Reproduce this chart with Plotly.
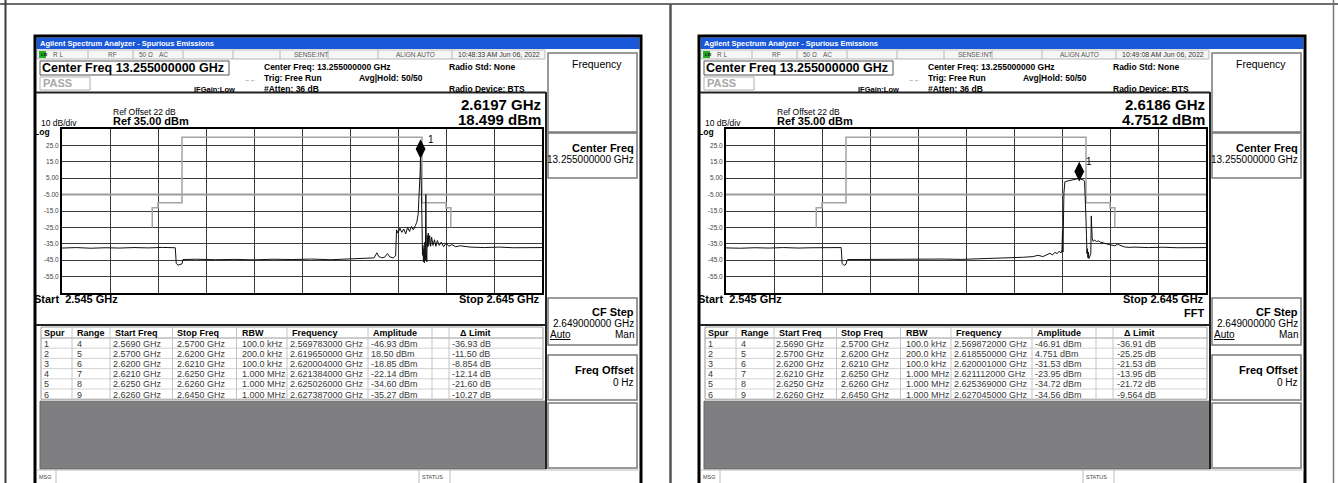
import plotly.graph_objects as go

W, H = 1338, 483
OFF = 664  # horizontal offset of the second analyser screen
FONT = "Liberation Sans, Arial, sans-serif"

# ---------------- data ----------------
x_start, x_stop = 2.545, 2.645
ref_level, db_div = 35.0, 10.0
y_ticks = [25, 15, 5, -5, -15, -25, -35, -45, -55]
y_tick_text = ["25.0", "15.0", "5.00", "-5.00", "-15.0", "-25.0", "-35.0", "-45.0", "-55.0"]
display_line = -5.0

lim_f = [2.5638, 2.5638, 2.5650, 2.5650, 2.5700, 2.5700, 2.6200, 2.6200, 2.6250, 2.6250, 2.6260, 2.6260]
lim_a = [-25, -13, -13, -10, -10, 30, 30, -10, -10, -13, -13, -25]

L_f = [2.5450, 2.5480, 2.5510, 2.5540, 2.5570, 2.5600, 2.5630, 2.5660, 2.5686,
       2.5688, 2.5692, 2.5697, 2.5700, 2.5702,
       2.5730, 2.5770, 2.5810, 2.5850, 2.5890, 2.5930, 2.5970, 2.6010, 2.6050, 2.6080,
       2.6100, 2.6106, 2.6110, 2.6116, 2.6122, 2.6128, 2.6133, 2.6140, 2.6145,
       2.6147, 2.6150, 2.6154, 2.6158, 2.6162, 2.6166, 2.6170, 2.6174, 2.6178, 2.6182,
       2.6186, 2.6189, 2.6192, 2.6194, 2.6196, 2.6197, 2.6198, 2.6199, 2.6200,
       2.6201, 2.6202, 2.6203, 2.6204, 2.6205, 2.6206, 2.6207, 2.6208, 2.6209, 2.6210,
       2.6211, 2.6212, 2.6213, 2.6214, 2.6216, 2.6218, 2.6220, 2.6223, 2.6226, 2.6229,
       2.6232, 2.6236, 2.6240, 2.6245, 2.6250, 2.6256, 2.6262, 2.6270, 2.6280, 2.6300,
       2.6330, 2.6360, 2.6390, 2.6420, 2.6450]
L_a = [-37.6, -37.3, -37.7, -37.4, -37.6, -37.3, -37.5, -37.2, -37.4,
       -47.0, -48.0, -47.6, -47.2, -44.6,
       -44.4, -44.7, -44.5, -44.8, -44.4, -44.6, -44.3, -44.7, -44.2, -43.9,
       -43.6, -40.5, -42.8, -43.5, -43.2, -41.0, -43.0, -43.6, -42.4,
       -26.5, -28.5, -25.5, -28.0, -26.0, -29.0, -25.0, -27.5, -24.5, -26.5,
       -24.0, -22.0, -17.0, -8.0, 8.0, 18.5, 10.0, -6.0, -22.0,
       -42.0, -36.0, -46.0, -38.0, -46.5, -34.0, -45.0, -5.0, -40.0, -46.0,
       -30.0, -37.0, -28.5, -36.0, -30.0, -36.5, -31.0, -36.0, -32.5, -36.5,
       -33.0, -36.0, -34.0, -36.8, -34.5, -36.5, -35.5, -36.8, -36.2, -37.0,
       -37.3, -37.0, -37.4, -37.2, -37.3]

R_f = [2.5450, 2.5480, 2.5510, 2.5540, 2.5570, 2.5600, 2.5630, 2.5660, 2.5690,
       2.5692, 2.5696, 2.5700, 2.5702, 2.5704,
       2.5740, 2.5780, 2.5820, 2.5860, 2.5900, 2.5940, 2.5980, 2.6020, 2.6050, 2.6070,
       2.6090, 2.6100, 2.6110, 2.6118, 2.6125, 2.6130, 2.6135, 2.6140, 2.6144, 2.6148, 2.6150,
       2.6151, 2.6152, 2.6154, 2.6156, 2.6160, 2.6165, 2.6170, 2.6175, 2.6180, 2.6186,
       2.6190, 2.6194, 2.6197, 2.6199, 2.6200,
       2.6201, 2.6202, 2.6203, 2.6204, 2.6205, 2.6206, 2.6208, 2.6210, 2.6211, 2.6212,
       2.6213, 2.6215, 2.6218, 2.6222, 2.6226, 2.6230, 2.6235, 2.6240, 2.6250, 2.6260,
       2.6266, 2.6270, 2.6275, 2.6280, 2.6290, 2.6300, 2.6330, 2.6360, 2.6390, 2.6420, 2.6450]
R_a = [-37.5, -37.7, -37.4, -37.6, -37.3, -37.6, -37.4, -37.5, -37.3,
       -47.0, -48.2, -47.5, -45.0, -44.6,
       -44.5, -44.7, -44.4, -44.6, -44.3, -44.5, -44.2, -44.0, -43.6, -43.2,
       -42.8, -42.0, -42.8, -41.6, -40.8, -41.8, -40.2, -41.0, -39.5, -40.6, -38.5,
       -27.0, -40.0, -4.0, 2.8, 3.2, 3.6, 3.9, 4.2, 4.5, 4.75,
       4.5, 4.0, 3.2, -8.0, -20.0,
       -30.0, -41.0, -38.0, -43.5, -40.0, -44.0, -42.0, -41.0, -18.0, -30.0,
       -32.0, -33.5, -32.8, -33.6, -33.2, -34.0, -34.5, -34.8, -35.6, -36.2,
       -35.2, -35.8, -36.6, -36.9, -37.2, -37.0, -37.3, -37.1, -37.4, -37.2, -37.3]

L_mk_f, L_mk_a = 2.6197, 18.499
R_mk_f, R_mk_a = 2.6186, 4.7512
L_mk_text = ["2.6197 GHz", "18.499 dBm"]
R_mk_text = ["2.6186 GHz", "4.7512 dBm"]
L_time = "10:48:33 AM Jun 06, 2022"
R_time = "10:49:08 AM Jun 06, 2022"

table_head = ["Spur", "Range", "Start Freq", "Stop Freq", "RBW", "Frequency", "Amplitude", "Δ Limit"]
spur_no = ["1", "2", "3", "4", "5", "6"]
range_no = ["4", "5", "6", "7", "8", "9"]
start_freq = ["2.5690 GHz", "2.5700 GHz", "2.6200 GHz", "2.6210 GHz", "2.6250 GHz", "2.6260 GHz"]
stop_freq = ["2.5700 GHz", "2.6200 GHz", "2.6210 GHz", "2.6250 GHz", "2.6260 GHz", "2.6450 GHz"]
rbw = ["100.0 kHz", "200.0 kHz", "100.0 kHz", "1.000 MHz", "1.000 MHz", "1.000 MHz"]
L_freq = ["2.569783000 GHz", "2.619650000 GHz", "2.620004000 GHz", "2.621384000 GHz", "2.625026000 GHz", "2.627387000 GHz"]
L_amp = ["-46.93 dBm", "18.50 dBm", "-18.85 dBm", "-22.14 dBm", "-34.60 dBm", "-35.27 dBm"]
L_dlim = ["-36.93 dB", "-11.50 dB", "-8.854 dB", "-12.14 dB", "-21.60 dB", "-10.27 dB"]
R_freq = ["2.569872000 GHz", "2.618550000 GHz", "2.620001000 GHz", "2.621112000 GHz", "2.625369000 GHz", "2.627045000 GHz"]
R_amp = ["-46.91 dBm", "4.751 dBm", "-31.53 dBm", "-23.95 dBm", "-34.72 dBm", "-34.56 dBm"]
R_dlim = ["-36.91 dB", "-25.25 dB", "-21.53 dB", "-13.95 dB", "-21.72 dB", "-9.564 dB"]

assert len(L_f) == len(L_a) and len(R_f) == len(R_a)

# ---------------- helpers ----------------
shapes, ann = [], []


def X(p):
    return p / W


def Y(p):
    return 1 - p / H


def rect(x0, y0, x1, y1, fill=None, line=None, lw=1, layer="below"):
    shapes.append(dict(type="rect", xref="paper", yref="paper", x0=X(x0), x1=X(x1), y0=Y(y1), y1=Y(y0),
                       layer=layer, fillcolor=fill or "rgba(0,0,0,0)",
                       line=dict(color=line or "rgba(0,0,0,0)", width=lw if line else 0)))


def seg(x0, y0, x1, y1, color, lw=1):
    shapes.append(dict(type="line", xref="paper", yref="paper", x0=X(x0), y0=Y(y0), x1=X(x1), y1=Y(y1),
                       line=dict(color=color, width=lw)))


def txt(x, y, s, size, color="#000", bold=False, anchor="left", underline=False):
    if bold:
        s = "<b>%s</b>" % s
    if underline:
        s = "<u>%s</u>" % s
    ann.append(dict(x=X(x), y=Y(y), xref="paper", yref="paper", text=s, showarrow=False,
                    xanchor=anchor, yanchor="middle", borderpad=0,
                    font=dict(family=FONT, size=size, color=color)))


# ---------------- document frame ----------------
seg(0, 4, W, 4, "#3c3c3c", 1.5)
seg(5.5, 0, 5.5, H, "#3c3c3c", 2)
seg(670.5, 4, 670.5, H, "#555555", 2.5)
seg(1333.5, 0, 1333.5, H, "#777777", 1.5)


def screen(o, time_s, mk_text, freq_col, amp_col, dlim_col, fft):
    # outer frame and title bar
    rect(o + 35, 36, o + 641, 500, fill="white")
    rect(o + 35, 36, o + 641, 500, line="#000", lw=3, layer="above")
    rect(o + 36.5, 37.5, o + 639.5, 49, fill="#1a58da")
    txt(o + 39, 43.5, "Agilent Spectrum Analyzer - Spurious Emissions", 7.5, "white", True)
    # status row
    rect(o + 37, 50, o + 545, 59, fill="#f6f6f6", line="#b8b8b8", lw=1)
    rect(o + 39, 51, o + 46, 58, fill="#22b022")
    txt(o + 39.5, 54.5, "LXI", 4, "#000", True)
    for sx in [88, 133, 183, 233, 280, 328, 378, 452]:
        seg(o + sx, 50, o + sx, 59, "#b8b8b8", 1)
    txt(o + 52, 54.5, "R L", 6.5, "#555")
    txt(o + 107, 54.5, "RF", 6.5, "#555")
    txt(o + 138, 54.5, "50 Ω", 6.5, "#555")
    txt(o + 158, 54.5, "AC", 6.5, "#555")
    txt(o + 293, 54.5, "SENSE:INT", 6.5, "#555")
    txt(o + 395, 54.5, "ALIGN AUTO", 6.5, "#555")
    txt(o + 457, 54.5, time_s, 7, "#333")
    # header
    rect(o + 40, 61, o + 229, 75, line="#555", lw=1)
    txt(o + 41, 68, "Center Freq 13.255000000 GHz", 12.5, "#000", True)
    rect(o + 40, 77, o + 90, 90, line="#b0b0b0", lw=1)
    txt(o + 42, 83.5, "PASS", 11, "#a8a8a8", True)
    txt(o + 243, 80, "→←", 6, "#333")
    txt(o + 193, 89.5, "IFGain:Low", 7.5, "#000", True)
    txt(o + 263, 67, "Center Freq: 13.255000000 GHz", 8.5, "#000", True)
    txt(o + 263, 78, "Trig: Free Run", 8.5, "#000", True)
    txt(o + 358, 78, "Avg|Hold: 50/50", 8.5, "#000", True)
    txt(o + 263, 89, "#Atten: 36 dB", 8.5, "#000", True)
    txt(o + 448, 67, "Radio Std: None", 8.5, "#000", True)
    txt(o + 448, 89, "Radio Device: BTS", 8.5, "#000", True)
    seg(o + 36, 92.5, o + 546, 92.5, "#222", 2)
    txt(o + 112, 111.5, "Ref Offset 22 dB", 8.5)
    txt(o + 112, 121.5, "Ref 35.00 dBm", 11, "#000", True)
    txt(o + 40, 122.5, "10 dB/div", 8.5)
    txt(o + 542, 105, mk_text[0], 15, "#000", True, "right")
    txt(o + 542, 119.5, mk_text[1], 15, "#000", True, "right")
    txt(o + 33, 132, "Log", 8.5, "#000", True)
    txt(o + 33, 299, "Start  2.545 GHz", 11, "#000", True)
    txt(o + 541, 299, "Stop 2.645 GHz", 11, "#000", True, "right")
    if fft:
        txt(o + 541, 313, "FFT", 11, "#000", True, "right")
    seg(o + 36, 325, o + 546, 325, "#222", 2)
    seg(o + 546, 92, o + 546, 469, "#222", 2)

    # softkeys
    for y0, y1 in [(53, 132), (133, 178), (298, 345), (355, 400), (403, 468)]:
        rect(o + 548, y0, o + 637, y1, fill="white", line="#7a7a7a", lw=1.5)
    txt(o + 597, 64, "Frequency", 10.5, "#000", False, "center")
    txt(o + 635, 148, "Center Freq", 11, "#000", True, "right")
    txt(o + 635, 159, "13.255000000 GHz", 10, "#000", False, "right")
    txt(o + 635, 312, "CF Step", 11, "#000", True, "right")
    txt(o + 635, 323, "2.649000000 GHz", 10, "#000", False, "right")
    txt(o + 549, 334, "Auto", 10, "#000", False, "left", True)
    txt(o + 635, 334, "Man", 10, "#000", False, "right")
    txt(o + 635, 370, "Freq Offset", 11, "#000", True, "right")
    txt(o + 635, 382, "0 Hz", 10, "#000", False, "right")

    # spur table
    tx0, tx1, ty0, hh, rh = 41, 543, 327, 11, 10.2
    ty1 = ty0 + hh + 6 * rh
    rect(o + tx0, ty0, o + tx1, ty1, fill="white", line="#9a9a9a", lw=1)
    seg(o + tx0, ty0 + hh, o + tx1, ty0 + hh, "#9a9a9a", 1)
    for i in range(1, 6):
        yy = ty0 + hh + i * rh
        seg(o + tx0, yy, o + tx1, yy, "#d2d2d2", 1)
    for cx in [72, 110, 172.5, 236.5, 287, 368, 432, 449]:
        seg(o + cx, ty0, o + cx, ty1, "#c4c4c4", 1)
    head_x = [43, 76, 114, 176, 241, 291, 372, 459]
    for hx, hs in zip(head_x, table_head):
        txt(o + hx, ty0 + hh / 2 + 0.5, hs, 9, "#000", True)
    val_x = [43, 75.5, 111.5, 175.5, 240.5, 289, 370, 451.5]
    cols = [spur_no, range_no, start_freq, stop_freq, rbw, freq_col, amp_col, dlim_col]
    for r in range(6):
        yy = ty0 + hh + r * rh + rh / 2 + 0.5
        for vx, col in zip(val_x, cols):
            txt(o + vx, yy, col[r], 9, "#3a3a3a")
    # empty area and message bar
    rect(o + 40, ty1 + 2, o + 546, 469, fill="#7f7f81", line="#666", lw=1)
    rect(o + 37, 470, o + 640, 490, fill="white")
    seg(o + 37, 470, o + 640, 470, "#bbbbbb", 1)
    txt(o + 38, 477, "MSG", 5.5, "#444")
    seg(o + 56, 470, o + 56, 483, "#bbbbbb", 1)
    seg(o + 419, 470, o + 419, 483, "#bbbbbb", 1)
    txt(o + 421, 477, "STATUS", 5.5, "#444")
    seg(o + 450, 470, o + 450, 483, "#bbbbbb", 1)


screen(0, L_time, L_mk_text, L_freq, L_amp, L_dlim, False)
screen(OFF, R_time, R_mk_text, R_freq, R_amp, R_dlim, True)

# ---------------- spectrum plots ----------------
fig = go.Figure()
for xa, ya, tf, ta, mf, ma in [("x", "y", L_f, L_a, L_mk_f, L_mk_a),
                               ("x2", "y2", R_f, R_a, R_mk_f, R_mk_a)]:
    fig.add_trace(go.Scatter(x=lim_f, y=lim_a, xaxis=xa, yaxis=ya, mode="lines",
                             line=dict(color="#a3a3a3", width=1.5), hoverinfo="skip", showlegend=False))
    fig.add_trace(go.Scatter(x=tf, y=ta, xaxis=xa, yaxis=ya, mode="lines",
                             line=dict(color="#111111", width=1), showlegend=False))
    fig.add_trace(go.Scatter(x=[mf], y=[ma], xaxis=xa, yaxis=ya, mode="markers",
                             marker=dict(symbol="diamond-tall", size=14, color="#000",
                                         angle=180, standoff=7),
                             showlegend=False))
    ann.append(dict(x=mf, y=ma, xref=xa, yref=ya, text="1", showarrow=False, xshift=10, yshift=17,
                    font=dict(family=FONT, size=10, color="#000")))
    shapes.append(dict(type="line", xref=xa, yref=ya, x0=x_start, x1=x_stop, y0=display_line,
                       y1=display_line, layer="between", line=dict(color="#9c9c9c", width=2)))


def xax(d, anchor):
    return dict(domain=d, anchor=anchor, range=[x_start, x_stop], tick0=x_start, dtick=0.01,
                showgrid=True, gridcolor="#3a3a3a", gridwidth=1, showticklabels=False, ticks="",
                zeroline=False, showline=True, linecolor="#000", linewidth=2, mirror=True,
                fixedrange=True)


def yax(d, anchor):
    return dict(domain=d, anchor=anchor, range=[ref_level - 10 * db_div, ref_level],
                tickmode="array", tickvals=y_ticks, ticktext=y_tick_text,
                tickfont=dict(family=FONT, size=6.5, color="#444"),
                showgrid=True, gridcolor="#3a3a3a", gridwidth=1, ticks="", zeroline=False,
                showline=True, linecolor="#000", linewidth=2, mirror=True, fixedrange=True)


ydom = [Y(293), Y(129)]
fig.update_layout(
    width=W, height=H, autosize=False,
    margin=dict(l=0, r=0, t=0, b=0),
    paper_bgcolor="white", plot_bgcolor="white",
    xaxis=xax([X(62), X(542)], "y"), yaxis=yax(ydom, "x"),
    xaxis2=xax([X(62 + OFF), X(542 + OFF)], "y2"), yaxis2=yax(ydom, "x2"),
    shapes=shapes, annotations=ann, showlegend=False,
)

fig.write_html("out.html", config={"displayModeBar": False},
               post_script="document.body.style.margin='0';document.body.style.overflow='hidden';")
